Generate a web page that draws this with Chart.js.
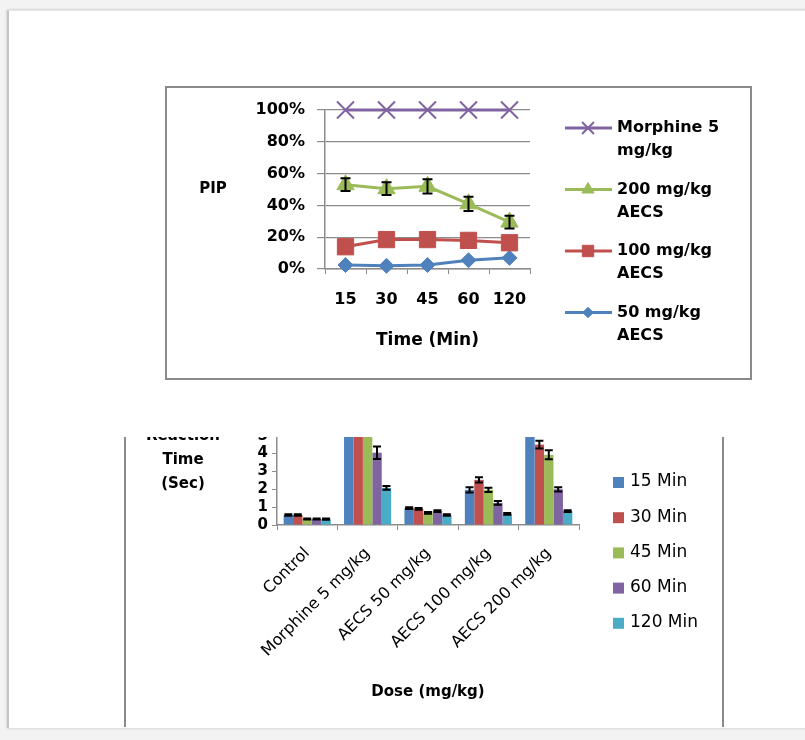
<!DOCTYPE html>
<html>
<head>
<meta charset="utf-8">
<script src="https://cdn.jsdelivr.net/npm/chart.js@4/dist/chart.umd.min.js"></script>
<style>
  html, body { margin: 0; padding: 0; }
  body { width: 805px; height: 740px; background: #f3f3f3; position: relative; overflow: hidden; }
  #hoja { position: absolute; left: 7px; top: 10px; width: 830px; height: 717px; background: #fff; border-left: 2px solid #c4c4c4; border-top: 1px solid #e4e4e4; box-shadow: 0 0 3px rgba(0,0,0,0.2); }
  #marco1 { position: absolute; left: 165px; top: 86px; width: 583px; height: 290px; border: 2px solid #8a8a8a; }
  #pip { position: absolute; left: 167px; top: 88px; }
  #corte { position: absolute; left: 124px; top: 437px; width: 596px; height: 290px; overflow: hidden; border-left: 2px solid #8a8a8a; border-right: 2px solid #8a8a8a; }
  #tiempo { position: absolute; left: 0; top: -68px; }
</style>
</head>
<body>
<div id="hoja"></div>
<div id="marco1"></div>
<canvas id="pip" width="582" height="289"></canvas>
<div id="corte"><canvas id="tiempo" width="596" height="366"></canvas></div>
<script>
// Grafica 1: PIP
const tiempos = ["15", "30", "45", "60", "120"];
const morfina = [100, 100, 100, 100, 100];
const aecs200 = [53, 50.5, 52, 41, 29.5];
const aecs200Error = [4, 4, 4.5, 4.5, 4];
const aecs100 = [14, 18.5, 18.5, 18, 16.5];
const aecs50 = [2.5, 2, 2.5, 5.5, 7];
const nombresPip = [["Morphine 5", "mg/kg"], ["200 mg/kg", "AECS"], ["100 mg/kg", "AECS"], ["50 mg/kg", "AECS"]];

// Grafica 2: tiempo de reaccion
const dosis = ["Control", "Morphine 5 mg/kg", "AECS 50 mg/kg", "AECS 100 mg/kg", "AECS 200 mg/kg"];
const minutos = ["15 Min", "30 Min", "45 Min", "60 Min", "120 Min"];
const min15 = [0.56, 6.2, 0.95, 1.97, 5.4];
const min30 = [0.56, 6.0, 0.9, 2.53, 4.5];
const min45 = [0.34, 5.8, 0.68, 1.97, 3.93];
const min60 = [0.34, 4.05, 0.78, 1.24, 2.0];
const min120 = [0.33, 2.08, 0.56, 0.62, 0.78];
const error15 = [0.04, 0.3, 0.05, 0.15, 0.3];
const error30 = [0.04, 0.3, 0.05, 0.15, 0.22];
const error45 = [0.03, 0.3, 0.05, 0.12, 0.25];
const error60 = [0.03, 0.35, 0.05, 0.1, 0.12];
const error120 = [0.03, 0.1, 0.04, 0.05, 0.05];

const azul = "#4F81BD", rojo = "#C0504D", verde = "#9BBB59", morado = "#8064A2", celeste = "#4BACC6";
const gris = "#8c8c8c";
const fuente = "'DejaVu Sans', sans-serif";

Chart.defaults.font.family = fuente;
Chart.defaults.color = "#000";

const barrasError = {
    id: "barrasError",
    afterDatasetsDraw(chart) {
        const ctx = chart.ctx;
        const escala = chart.scales.y;
        chart.data.datasets.forEach((ds, i) => {
            if (!ds.errores) return;
            const meta = chart.getDatasetMeta(i);
            ctx.save();
            ctx.strokeStyle = "#000";
            ctx.lineWidth = 2;
            meta.data.forEach((el, j) => {
                const e = ds.errores[j];
                if (!e) return;
                const arriba = escala.getPixelForValue(ds.data[j] + e);
                const abajo = escala.getPixelForValue(ds.data[j] - e);
                const w = ds.capa;
                ctx.beginPath();
                ctx.moveTo(el.x, arriba);
                ctx.lineTo(el.x, abajo);
                ctx.moveTo(el.x - w, arriba);
                ctx.lineTo(el.x + w, arriba);
                ctx.moveTo(el.x - w, abajo);
                ctx.lineTo(el.x + w, abajo);
                ctx.stroke();
            });
            ctx.restore();
        });
    },
};

const textosPip = {
    id: "textosPip",
    afterDraw(chart) {
        const ctx = chart.ctx;
        const a = chart.chartArea;
        ctx.save();
        ctx.fillStyle = "#000";
        ctx.font = "bold 15px " + fuente;
        ctx.textAlign = "center";
        ctx.textBaseline = "middle";
        ctx.fillText("PIP", a.left - 112, (a.top + a.bottom) / 2);

        // leyenda
        const x0 = a.right + 35;
        ctx.font = "bold 16px " + fuente;
        ctx.textAlign = "left";
        chart.data.datasets.forEach((ds, i) => {
            const yy = a.top + 18 + i * 61.5;
            ctx.strokeStyle = ds.borderColor;
            ctx.fillStyle = ds.backgroundColor;
            ctx.lineWidth = 3;
            ctx.beginPath();
            ctx.moveTo(x0, yy);
            ctx.lineTo(x0 + 47, yy);
            ctx.stroke();
            ctx.lineWidth = ds.pointBorderWidth;
            Chart.helpers.drawPoint(ctx, { pointStyle: ds.pointStyle, radius: ds.pointRadius * 0.7, rotation: 0, borderWidth: ds.pointBorderWidth }, x0 + 23, yy);
            ctx.fillStyle = "#000";
            nombresPip[i].forEach((linea, k) => ctx.fillText(linea, x0 + 52, yy + k * 23));
        });
        ctx.restore();
    },
};

new Chart(document.getElementById("pip"), {
    type: "line",
    data: {
        labels: tiempos,
        datasets: [
            { label: "Morphine 5 mg/kg", data: morfina, borderColor: morado, backgroundColor: morado, pointStyle: "crossRot", pointRadius: 12, pointBorderWidth: 2, borderWidth: 3 },
            { label: "200 mg/kg AECS", data: aecs200, errores: aecs200Error, capa: 5, borderColor: verde, backgroundColor: verde, pointStyle: "triangle", pointRadius: 10, pointBorderWidth: 1, borderWidth: 3 },
            { label: "100 mg/kg AECS", data: aecs100, borderColor: rojo, backgroundColor: rojo, pointStyle: "rect", pointRadius: 11.5, pointBorderWidth: 1, borderWidth: 3 },
            { label: "50 mg/kg AECS", data: aecs50, borderColor: azul, backgroundColor: azul, pointStyle: "rectRot", pointRadius: 7.5, pointBorderWidth: 1, borderWidth: 3 },
        ],
    },
    options: {
        responsive: false,
        animation: false,
        events: [],
        clip: false,
        layout: { padding: { left: 83, right: 219, top: 22, bottom: 0 } },
        plugins: { legend: { display: false }, tooltip: { enabled: false } },
        scales: {
            x: {
                offset: true,
                afterFit: (s) => { s.height = 108; },
                grid: { drawOnChartArea: false, offset: true, tickLength: 5, color: gris },
                border: { color: gris, width: 1.5 },
                ticks: { padding: 16, font: { size: 16, weight: "bold" } },
                title: { display: true, text: "Time (Min)", font: { size: 17, weight: "bold" }, padding: { bottom: 26 } },
            },
            y: {
                min: 0,
                max: 100,
                afterFit: (s) => { s.width = 75; },
                grid: { color: gris, tickLength: 8, lineWidth: 1.2 },
                border: { color: gris, width: 1.5 },
                ticks: { stepSize: 20, padding: 12, font: { size: 16, weight: "bold" }, callback: (v) => v + "%" },
            },
        },
    },
    plugins: [barrasError, textosPip],
});

const textosTiempo = {
    id: "textosTiempo",
    afterDraw(chart) {
        const ctx = chart.ctx;
        const a = chart.chartArea;
        ctx.save();
        ctx.fillStyle = "#000";
        ctx.font = "bold 15px " + fuente;
        ctx.textAlign = "center";
        ctx.textBaseline = "middle";
        ["Reaction", "Time", "(Sec)"].forEach((linea, k) => ctx.fillText(linea, 57, 67 + k * 24));

        // leyenda
        const x0 = a.right + 34;
        ctx.font = "17px " + fuente;
        ctx.textAlign = "left";
        chart.data.datasets.forEach((ds, i) => {
            const yy = 113 + i * 35.2;
            ctx.fillStyle = ds.backgroundColor;
            ctx.fillRect(x0, yy - 5, 11, 11);
            ctx.fillStyle = "#000";
            ctx.fillText(minutos[i], x0 + 17, yy);
        });
        ctx.restore();
    },
};

new Chart(document.getElementById("tiempo"), {
    type: "bar",
    data: {
        labels: dosis,
        datasets: [
            { label: minutos[0], data: min15, errores: error15, capa: 4, backgroundColor: azul },
            { label: minutos[1], data: min30, errores: error30, capa: 4, backgroundColor: rojo },
            { label: minutos[2], data: min45, errores: error45, capa: 4, backgroundColor: verde },
            { label: minutos[3], data: min60, errores: error60, capa: 4, backgroundColor: morado },
            { label: minutos[4], data: min120, errores: error120, capa: 4, backgroundColor: celeste },
        ],
    },
    options: {
        responsive: false,
        animation: false,
        events: [],
        categoryPercentage: 0.78,
        barPercentage: 1,
        layout: { padding: { left: 111, right: 143, top: 31, bottom: 0 } },
        plugins: { legend: { display: false }, tooltip: { enabled: false } },
        scales: {
            x: {
                afterFit: (s) => { s.height = 210; },
                grid: { drawOnChartArea: false, tickLength: 5, color: gris },
                border: { color: gris, width: 1.5 },
                ticks: { autoSkip: false, maxRotation: 45, minRotation: 45, padding: 14, font: { size: 16 } },
                title: { display: true, text: "Dose (mg/kg)", font: { size: 15, weight: "bold" }, padding: { bottom: 34 } },
            },
            y: {
                min: 0,
                max: 7,
                afterFit: (s) => { s.width = 40; },
                grid: { drawOnChartArea: false, tickLength: 5, color: gris },
                border: { color: gris, width: 1.5 },
                ticks: { stepSize: 1, autoSkip: false, padding: 4, font: { size: 15, weight: "bold" } },
            },
        },
    },
    plugins: [barrasError, textosTiempo],
});
</script>
</body>
</html>
